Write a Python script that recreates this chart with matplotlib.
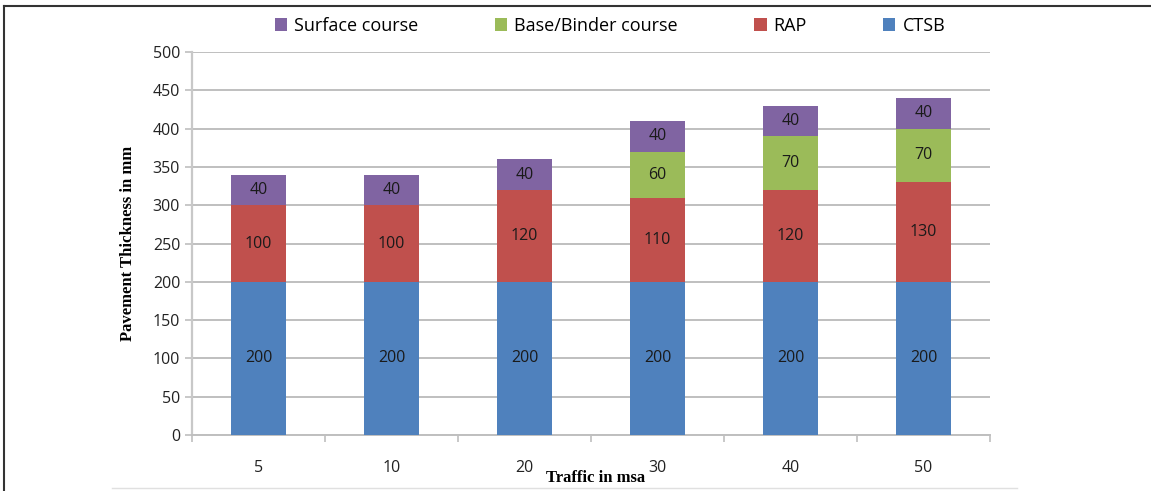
import numpy as np
import matplotlib.pyplot as plt
from matplotlib.lines import Line2D

traffic = ["5", "10", "20", "30", "40", "50"]
ctsb = [200, 200, 200, 200, 200, 200]
rap = [100, 100, 120, 110, 120, 130]
base = [0, 0, 0, 60, 70, 70]
surface = [40, 40, 40, 40, 40, 40]

colors = {"CTSB": "#4F81BD", "RAP": "#C0504D",
          "Base/Binder course": "#9BBB59", "Surface course": "#8064A2"}

plt.rcParams["font.family"] = ["Open Sans", "DejaVu Sans"]

fig = plt.figure(figsize=(11.51, 4.91), dpi=100)
ax = fig.add_axes([0.1668, 0.114, 0.6933, 0.780])

x = np.arange(len(traffic))
w = 0.41
layers = [("CTSB", ctsb), ("RAP", rap), ("Base/Binder course", base), ("Surface course", surface)]
bottom = np.zeros(len(traffic))
handles = {}
for name, vals in layers:
    vals = np.array(vals)
    b = ax.bar(x, vals, w, bottom=bottom, color=colors[name], zorder=3)
    handles[name] = b
    # value labels centred in each segment
    for xi, v, bt in zip(x, vals, bottom):
        if v > 0:
            ax.text(xi, bt + v / 2, str(v), ha="center", va="center",
                    fontsize=11.5, color="#1a1a1a", zorder=4)
    bottom += vals

ax.set_xlim(-0.5, len(traffic) - 0.5)
ax.set_ylim(0, 500)
ax.set_yticks(range(0, 501, 50))
ax.set_xticks(x)
ax.set_xticklabels(traffic)
ax.set_xticks(np.arange(-0.5, len(traffic), 1), minor=True)
ax.tick_params(axis="x", which="major", length=0, pad=18, labelsize=11.5, labelcolor="#222222")
ax.tick_params(axis="x", which="minor", length=5, color="#BFBFBF", width=1.2)
ax.tick_params(axis="y", length=5, color="#BFBFBF", width=1.2, labelsize=11.5, labelcolor="#222222")

ax.grid(axis="y", color="#BFBFBF", linewidth=1.4, zorder=0)
for s in ["top", "right"]:
    ax.spines[s].set_visible(False)
ax.spines["left"].set_color("#C8C8C8")
ax.spines["left"].set_linewidth(1.6)
ax.spines["bottom"].set_color("#BFBFBF")
ax.spines["bottom"].set_linewidth(1.4)

ax.set_ylabel("Pavement Thickness in mm", family=["Liberation Serif", "DejaVu Serif"],
              fontweight="bold", fontsize=12, labelpad=12)
fig.text(0.517, 0.027, "Traffic in msa", family=["Liberation Serif", "DejaVu Serif"],
         fontweight="bold", fontsize=12, ha="center", va="center")

order = ["Surface course", "Base/Binder course", "RAP", "CTSB"]
leg = fig.legend([handles[n] for n in order], order, loc="center", ncol=4,
                 bbox_to_anchor=(0.53, 0.947), frameon=False, fontsize=13,
                 handlelength=0.7, handleheight=0.7, columnspacing=4.2, handletextpad=0.4)

# frame lines of the original figure
fig.add_artist(Line2D([0.0035, 1.0], [0.988, 0.988], color="#333333", lw=1.5))
fig.add_artist(Line2D([0.0035, 0.0035], [0.0, 0.988], color="#333333", lw=1.5))
fig.add_artist(Line2D([0.097, 0.884], [0.006, 0.006], color="#E0E0E0", lw=1.0))

fig.savefig("out.png", dpi=100)
